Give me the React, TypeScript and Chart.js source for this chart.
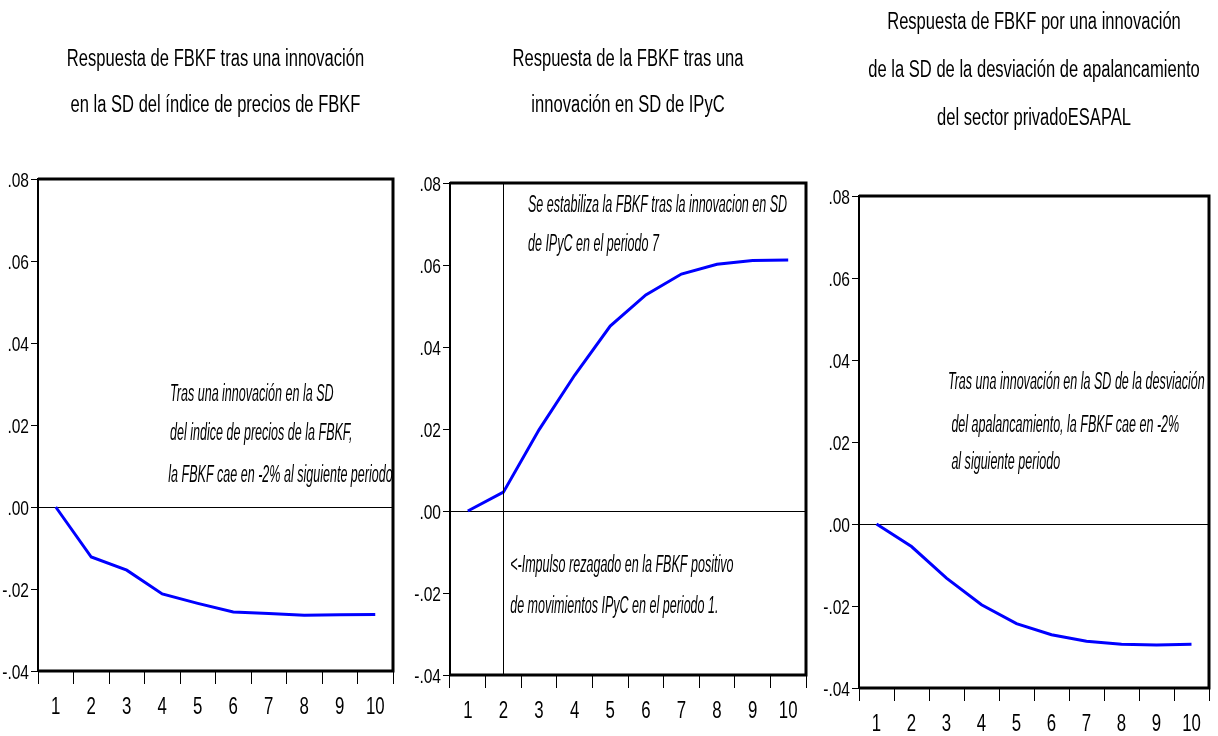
import React, { useEffect, useRef } from "react";
import { Chart, registerables } from "chart.js";

Chart.register(...registerables);

const periods = ["1", "2", "3", "4", "5", "6", "7", "8", "9", "10"];

const respPrecios = [0, -0.0122, -0.0154, -0.0212, -0.0235, -0.0256, -0.026, -0.0264, -0.0263, -0.0262];
const respIPyC = [0, 0.0046, 0.0198, 0.0331, 0.0451, 0.0527, 0.0578, 0.0602, 0.0611, 0.0612];
const respApalanc = [0, -0.0055, -0.0132, -0.0197, -0.0243, -0.027, -0.0286, -0.0293, -0.0295, -0.0293];

const yMin = -0.04;
const yMax = 0.08;
const yStep = 0.02;

const title1 = ["Respuesta de FBKF tras una innovación", "en la SD del índice de precios de FBKF"];
const title2 = ["Respuesta de la FBKF tras una", "innovación en SD de IPyC"];
const title3 = [
  "Respuesta de FBKF por una innovación",
  "de la SD de la desviación de apalancamiento",
  "del sector privadoESAPAL",
];

const notes1 = [
  "Tras una innovación en la SD",
  "del indice de precios de la FBKF,",
  "la FBKF cae en -2% al siguiente periodo",
];
const notes2Top = ["Se estabiliza la FBKF tras la innovacion en SD", "de IPyC en el periodo 7"];
const notes2Bottom = ["<-Impulso rezagado en la FBKF positivo", "de movimientos IPyC en el periodo 1."];
const notes3 = [
  "Tras una innovación en la SD de la desviación",
  " del apalancamiento, la FBKF cae en -2%",
  " al siguiente periodo",
];

const FONT = "'Liberation Sans', Arial, sans-serif";

type Note = { text: string; x: number; y: number };

type PanelCfg = {
  left: number;
  width: number;
  areaTop: number;
  yAxisWidth: number;
  xAxisHeight: number;
  padRight: number;
  title: string[];
  titleTop: number;
  titleLH: number;
  values: number[];
  notes: Note[];
  vline: number | null;
};

const panels: PanelCfg[] = [
  {
    left: 0,
    width: 405,
    areaTop: 179,
    yAxisWidth: 38,
    xAxisHeight: 65,
    padRight: 12,
    title: title1,
    titleTop: 60,
    titleLH: 46,
    values: respPrecios,
    notes: [
      { text: notes1[0], x: 3.22, y: 0.0273 },
      { text: notes1[1], x: 3.22, y: 0.018 },
      { text: notes1[2], x: 3.17, y: 0.0077 },
    ],
    vline: null,
  },
  {
    left: 405,
    width: 410,
    areaTop: 183,
    yAxisWidth: 45,
    xAxisHeight: 61,
    padRight: 9,
    title: title2,
    titleTop: 60,
    titleLH: 46,
    values: respIPyC,
    notes: [
      { text: notes2Top[0], x: 1.69, y: 0.0746 },
      { text: notes2Top[1], x: 1.69, y: 0.0649 },
      { text: notes2Bottom[0], x: 1.19, y: -0.0134 },
      { text: notes2Bottom[1], x: 1.19, y: -0.0232 },
    ],
    vline: 1,
  },
  {
    left: 815,
    width: 403,
    areaTop: 196,
    yAxisWidth: 44,
    xAxisHeight: 48,
    padRight: 9,
    title: title3,
    titleTop: 23,
    titleLH: 48,
    values: respApalanc,
    notes: [
      { text: notes3[0], x: 2.04, y: 0.0344 },
      { text: notes3[1], x: 2.04, y: 0.0241 },
      { text: notes3[2], x: 2.04, y: 0.0149 },
    ],
    vline: null,
  },
];

function fmtTick(v: number): string {
  if (Math.abs(v) < 1e-9) return ".00";
  const s = Math.abs(v).toFixed(2).replace(/^0/, "");
  return v < 0 ? "-" + s : s;
}

function squeezed(ctx: CanvasRenderingContext2D, text: string, x: number, y: number, sx: number, align: CanvasTextAlign) {
  ctx.save();
  ctx.translate(x, y);
  ctx.scale(sx, 1);
  ctx.textAlign = align;
  ctx.fillText(text, 0, 0);
  ctx.restore();
}

function Panel({ cfg }: { cfg: PanelCfg }) {
  const ref = useRef<HTMLCanvasElement | null>(null);
  useEffect(() => {
    if (!ref.current) return;
    const decor = {
      id: "decor" + cfg.left,
      afterDatasetsDraw(chart: any) {
        const { ctx, chartArea } = chart;
        const xs = chart.scales.x;
        const ys = chart.scales.y;
        ctx.save();
        if (cfg.vline !== null) {
          const px = Math.round(xs.getPixelForValue(cfg.vline)) + 0.5;
          ctx.strokeStyle = "#000";
          ctx.lineWidth = 1;
          ctx.beginPath();
          ctx.moveTo(px, chartArea.top);
          ctx.lineTo(px, chartArea.bottom);
          ctx.stroke();
        }
        // frame
        ctx.strokeStyle = "#000";
        ctx.lineWidth = 2;
        ctx.strokeRect(chartArea.left, chartArea.top, chartArea.right - chartArea.left, chartArea.bottom - chartArea.top);
        ctx.lineWidth = 3;
        ctx.beginPath();
        ctx.moveTo(chartArea.left, chartArea.top);
        ctx.lineTo(chartArea.right, chartArea.top);
        ctx.lineTo(chartArea.right, chartArea.bottom);
        ctx.lineTo(chartArea.left, chartArea.bottom);
        ctx.stroke();

        ctx.fillStyle = "#000";
        ctx.textBaseline = "middle";

        // title
        ctx.font = "23px " + FONT;
        const cx = (chartArea.left + chartArea.right) / 2;
        cfg.title.forEach((t, i) => squeezed(ctx, t, cx, cfg.titleTop + i * cfg.titleLH, 0.72, "center"));

        // y tick labels
        ctx.font = "21px " + FONT;
        ys.ticks.forEach((tk: any, i: number) => {
          squeezed(ctx, fmtTick(tk.value), chartArea.left - 9, ys.getPixelForTick(i) + 2, 0.74, "right");
        });

        // x tick labels
        ctx.font = "24px " + FONT;
        xs.ticks.forEach((tk: any, i: number) => {
          squeezed(ctx, String(xs.getLabelForValue(tk.value)), xs.getPixelForTick(i), chartArea.bottom + 36, 0.7, "center");
        });

        // notes
        ctx.font = "italic 23px " + FONT;
        for (const n of cfg.notes) {
          squeezed(ctx, n.text, xs.getPixelForValue(n.x), ys.getPixelForValue(n.y), 0.545, "left");
        }
        ctx.restore();
      },
    };
    const chart = new Chart(ref.current, {
      type: "line",
      data: {
        labels: periods,
        datasets: [
          {
            data: cfg.values,
            borderColor: "#0000ff",
            borderWidth: 3,
            pointRadius: 0,
            tension: 0,
            fill: false,
          },
        ],
      },
      options: {
        responsive: false,
        animation: false,
        events: [],
        layout: { padding: { left: 0, right: cfg.padRight, top: cfg.areaTop, bottom: 0 } },
        plugins: {
          legend: { display: false },
          tooltip: { enabled: false },
          title: { display: false },
        },
        scales: {
          x: {
            type: "category",
            offset: true,
            grid: { offset: true, drawOnChartArea: false, tickLength: 13, color: "#000", tickColor: "#000", lineWidth: 1 },
            border: { display: false },
            ticks: { display: false, autoSkip: false, maxRotation: 0 },
            afterFit(scale: any) {
              scale.height = cfg.xAxisHeight;
            },
          },
          y: {
            min: yMin,
            max: yMax,
            ticks: { stepSize: yStep, display: false },
            grid: {
              drawOnChartArea: true,
              tickLength: 7,
              tickColor: "#000",
              lineWidth: 1,
              color: (c: any) => (c.tick && Math.abs(c.tick.value) < 1e-9 ? "#000" : "rgba(0,0,0,0)"),
            },
            border: { display: false },
            afterFit(scale: any) {
              scale.width = cfg.yAxisWidth;
            },
          },
        },
      },
      plugins: [decor],
    } as any);
    return () => chart.destroy();
  }, [cfg]);
  return (
    <canvas
      ref={ref}
      width={cfg.width}
      height={736}
      style={{ position: "absolute", left: cfg.left, top: 0, width: cfg.width, height: 736 }}
    />
  );
}

export default function App() {
  return (
    <div style={{ position: "fixed", left: 0, top: 0, width: 1218, height: 736, background: "#fff", overflow: "hidden" }}>
      {panels.map((p, i) => (
        <Panel key={i} cfg={p} />
      ))}
    </div>
  );
}
